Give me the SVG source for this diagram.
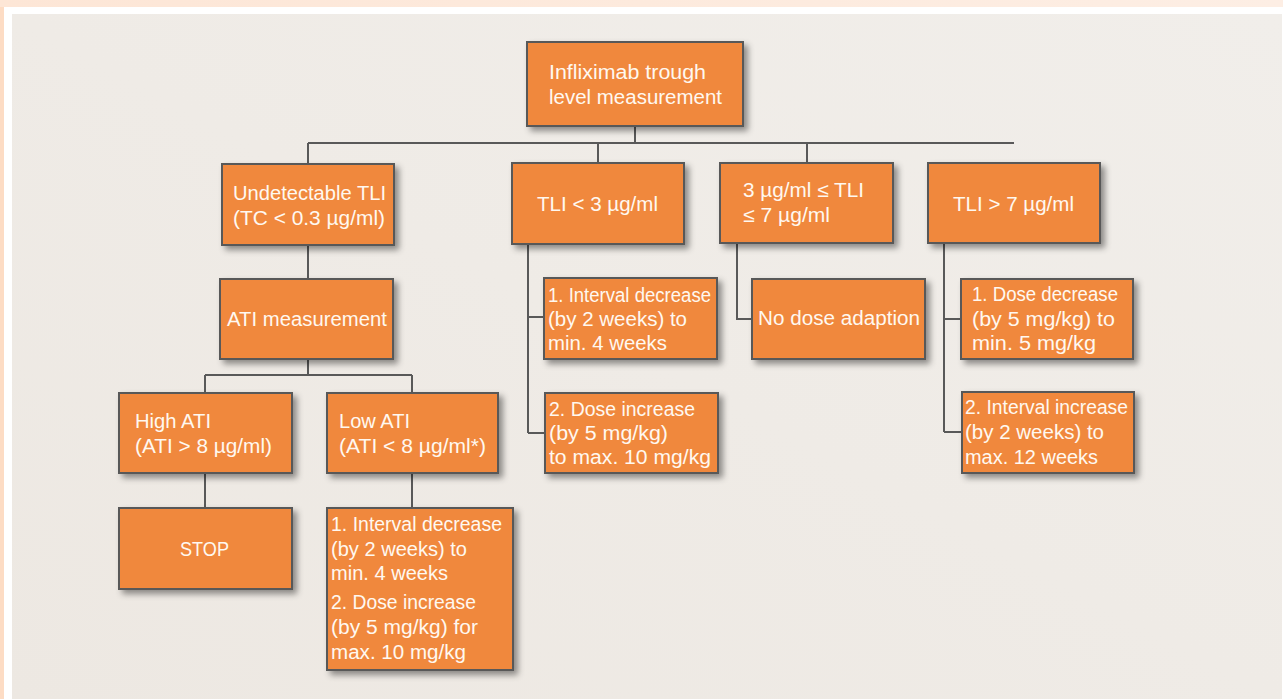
<svg xmlns="http://www.w3.org/2000/svg" width="1283" height="699" viewBox="0 0 1283 699">
<defs>
<linearGradient id="bgGrad" x1="0" y1="1" x2="1" y2="0">
<stop offset="0" stop-color="#ede8e2"/>
<stop offset="1" stop-color="#f1eeea"/>
</linearGradient>
<linearGradient id="topBand" x1="0" y1="0" x2="1" y2="0">
<stop offset="0" stop-color="#fde6d6"/>
<stop offset="1" stop-color="#fdeee4"/>
</linearGradient>
<filter id="shadow" x="-10%" y="-10%" width="130%" height="130%">
<feDropShadow dx="4" dy="4" stdDeviation="3" flood-color="#000" flood-opacity="0.42"/>
</filter>
<style>
.box{fill:#f0883e;stroke:#595959;stroke-width:2;filter:url(#shadow)}
.t{font-family:"Liberation Sans",Arial,sans-serif;font-size:20px;fill:#fff8f0}
.c{stroke:#595959;stroke-width:2;fill:none}
</style>
</defs>
<rect x="0" y="0" width="1283" height="699" fill="#fddcc4"/>
<rect x="0" y="0" width="1283" height="7" fill="url(#topBand)"/>
<rect x="4" y="7" width="1279" height="692" fill="#ffffff"/>
<rect x="12" y="14" width="1270" height="685" fill="url(#bgGrad)"/>

<g id="connectors" class="c">
<path d="M635 126V143M308 143H1014M308 143V164M598 143V163M807 143V163"/>
<path d="M308 245V279M308 359V375M205 375H412M205 375V393M412 375V393"/>
<path d="M205 473V508M412 473V508"/>
<path d="M528 244V433M528 317H544M528 433H545"/>
<path d="M737 243V319H752"/>
<path d="M944 243V432M944 319H961M944 432H962"/>
</g>

<g id="root">
<rect class="box" x="527" y="42" width="216" height="84"/>
<text class="t" x="549" y="79" textLength="157" lengthAdjust="spacingAndGlyphs">Infliximab trough</text>
<text class="t" x="549" y="104" textLength="173" lengthAdjust="spacingAndGlyphs">level measurement</text>
</g>
<g id="undetectable">
<rect class="box" x="222" y="164" width="172" height="81"/>
<text class="t" x="233" y="200" textLength="153" lengthAdjust="spacingAndGlyphs">Undetectable TLI</text>
<text class="t" x="233" y="225" textLength="152" lengthAdjust="spacingAndGlyphs">(TC &lt; 0.3 µg/ml)</text>
</g>
<g id="tli-low">
<rect class="box" x="512" y="163" width="172" height="81"/>
<text class="t" x="537" y="211" textLength="121" lengthAdjust="spacingAndGlyphs">TLI &lt; 3 µg/ml</text>
</g>
<g id="tli-mid">
<rect class="box" x="720" y="163" width="173" height="80"/>
<text class="t" x="743" y="197" textLength="121" lengthAdjust="spacingAndGlyphs">3 µg/ml ≤ TLI</text>
<text class="t" x="743" y="222" textLength="87" lengthAdjust="spacingAndGlyphs">≤ 7 µg/ml</text>
</g>
<g id="tli-high">
<rect class="box" x="928" y="163" width="172" height="80"/>
<text class="t" x="953" y="211" textLength="121" lengthAdjust="spacingAndGlyphs">TLI &gt; 7 µg/ml</text>
</g>
<g id="ati">
<rect class="box" x="220" y="279" width="173" height="80"/>
<text class="t" x="227" y="326" textLength="160" lengthAdjust="spacingAndGlyphs">ATI measurement</text>
</g>
<g id="high-ati">
<rect class="box" x="119" y="393" width="173" height="80"/>
<text class="t" x="135" y="428" textLength="76" lengthAdjust="spacingAndGlyphs">High ATI</text>
<text class="t" x="135" y="453" textLength="137" lengthAdjust="spacingAndGlyphs">(ATI &gt; 8 µg/ml)</text>
</g>
<g id="low-ati">
<rect class="box" x="327" y="393" width="171" height="80"/>
<text class="t" x="339" y="428" textLength="71" lengthAdjust="spacingAndGlyphs">Low ATI</text>
<text class="t" x="339" y="453" textLength="147" lengthAdjust="spacingAndGlyphs">(ATI &lt; 8 µg/ml*)</text>
</g>
<g id="stop">
<rect class="box" x="119" y="508" width="173" height="81"/>
<text class="t" x="180" y="556" textLength="49" lengthAdjust="spacingAndGlyphs">STOP</text>
</g>
<g id="low-ati-action">
<rect class="box" x="327" y="508" width="186" height="162"/>
<text class="t" x="331" y="531" textLength="171" lengthAdjust="spacingAndGlyphs">1. Interval decrease</text>
<text class="t" x="331" y="556" textLength="136" lengthAdjust="spacingAndGlyphs">(by 2 weeks) to</text>
<text class="t" x="331" y="580" textLength="117" lengthAdjust="spacingAndGlyphs">min. 4 weeks</text>
<text class="t" x="331" y="609" textLength="145" lengthAdjust="spacingAndGlyphs">2. Dose increase</text>
<text class="t" x="331" y="634" textLength="147" lengthAdjust="spacingAndGlyphs">(by 5 mg/kg) for</text>
<text class="t" x="331" y="659" textLength="135" lengthAdjust="spacingAndGlyphs">max. 10 mg/kg</text>
</g>
<g id="tli-low-1">
<rect class="box" x="544" y="278" width="173" height="81"/>
<text class="t" x="548" y="302" textLength="163" lengthAdjust="spacingAndGlyphs">1. Interval decrease</text>
<text class="t" x="548" y="326" textLength="139" lengthAdjust="spacingAndGlyphs">(by 2 weeks) to</text>
<text class="t" x="548" y="350" textLength="119" lengthAdjust="spacingAndGlyphs">min. 4 weeks</text>
</g>
<g id="tli-low-2">
<rect class="box" x="545" y="393" width="173" height="80"/>
<text class="t" x="549" y="416" textLength="146" lengthAdjust="spacingAndGlyphs">2. Dose increase</text>
<text class="t" x="549" y="440" textLength="119" lengthAdjust="spacingAndGlyphs">(by 5 mg/kg)</text>
<text class="t" x="549" y="464" textLength="162" lengthAdjust="spacingAndGlyphs">to max. 10 mg/kg</text>
</g>
<g id="no-dose">
<rect class="box" x="752" y="279" width="173" height="80"/>
<text class="t" x="758" y="325" textLength="162" lengthAdjust="spacingAndGlyphs">No dose adaption</text>
</g>
<g id="tli-high-1">
<rect class="box" x="961" y="279" width="172" height="80"/>
<text class="t" x="972" y="301" textLength="146" lengthAdjust="spacingAndGlyphs">1. Dose decrease</text>
<text class="t" x="972" y="326" textLength="143" lengthAdjust="spacingAndGlyphs">(by 5 mg/kg) to</text>
<text class="t" x="972" y="350" textLength="124" lengthAdjust="spacingAndGlyphs">min. 5 mg/kg</text>
</g>
<g id="tli-high-2">
<rect class="box" x="962" y="392" width="172" height="81"/>
<text class="t" x="965" y="414" textLength="163" lengthAdjust="spacingAndGlyphs">2. Interval increase</text>
<text class="t" x="965" y="439" textLength="139" lengthAdjust="spacingAndGlyphs">(by 2 weeks) to</text>
<text class="t" x="965" y="464" textLength="133" lengthAdjust="spacingAndGlyphs">max. 12 weeks</text>
</g>
</svg>
